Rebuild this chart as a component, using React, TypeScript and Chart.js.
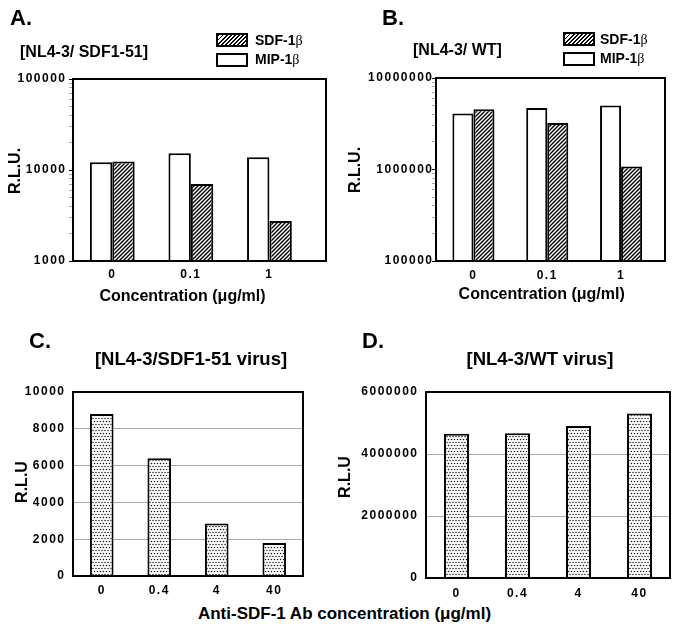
import React, { useEffect, useRef } from 'react';
import { Chart, registerables } from 'chart.js';
Chart.register(...registerables);

// ---------- data ----------
const abCategories = ['0', '0.1', '1'];
const sdfLabel = 'SDF-1β';
const mipLabel = 'MIP-1β';
const aMip = [12200, 15300, 13800];
const aSdf = [12400, 7000, 2750];
const bMip = [4080000, 4710000, 4990000];
const bSdf = [4550000, 3230000, 1080000];
const aDecades = [1000, 10000, 100000];
const bDecades = [100000, 1000000, 10000000];

const cdCategories = ['0', '0.4', '4', '40'];
const cValues = [8800, 6400, 2850, 1800];
const dValues = [4650000, 4670000, 4900000, 5310000];
const cTicks = [0, 2000, 4000, 6000, 8000, 10000];
const dTicks = [0, 2000000, 4000000, 6000000];

// ---------- styles ----------
const FONT = '"Liberation Sans", Arial, Helvetica, sans-serif';
const TICK_FONT = { family: '"Liberation Sans", Arial, sans-serif', size: 12, weight: 'bold' as const };

const framePlugin = {
  id: 'frame',
  beforeDraw(chart: any) {
    (chart.ctx as any).letterSpacing = '1.5px';
  },
  afterDatasetsDraw(chart: any) {
    const { ctx, chartArea: a } = chart;
    ctx.save();
    ctx.strokeStyle = '#000';
    ctx.lineWidth = 2;
    ctx.strokeRect(a.left, a.top, a.right - a.left, a.bottom - a.top);
    ctx.restore();
  },
  afterDraw(chart: any) {
    (chart.ctx as any).letterSpacing = '0px';
  },
};

function makeHatch(ctx: CanvasRenderingContext2D) {
  const c = document.createElement('canvas');
  c.width = 4;
  c.height = 4;
  const g = c.getContext('2d')!;
  g.fillStyle = '#fff';
  g.fillRect(0, 0, 4, 4);
  g.strokeStyle = '#000';
  g.lineWidth = 1.4;
  g.beginPath();
  g.moveTo(-1, 5); g.lineTo(5, -1);
  g.moveTo(-1, 1); g.lineTo(1, -1);
  g.moveTo(3, 5); g.lineTo(5, 3);
  g.stroke();
  return ctx.createPattern(c, 'repeat');
}

function makeDots(ctx: CanvasRenderingContext2D) {
  const c = document.createElement('canvas');
  c.width = 6;
  c.height = 6;
  const g = c.getContext('2d')!;
  g.fillStyle = '#fff';
  g.fillRect(0, 0, 6, 6);
  g.fillStyle = '#111';
  const pts = [[1.5, 1.5], [4.5, 1.5], [0, 4.5], [3, 4.5], [6, 4.5]];
  for (const [x, y] of pts) {
    g.beginPath();
    g.arc(x, y, 0.75, 0, Math.PI * 2);
    g.fill();
  }
  return ctx.createPattern(c, 'repeat');
}

type Area = { left: number; right: number; top: number; bottom: number };

function isMinorOk(v: number) {
  const e = Math.floor(Math.log10(v) + 1e-9);
  const m = v / Math.pow(10, e);
  return Math.abs(m - Math.round(m)) < 1e-6;
}
function isDecade(v: number) {
  const l = Math.log10(v);
  return Math.abs(l - Math.round(l)) < 1e-9;
}

function logConfig(ctx: CanvasRenderingContext2D, o: {
  mip: number[]; sdf: number[]; decades: number[]; area: Area; w: number; h: number;
  xMin: number; xMax: number; tickPad: number; xPad: number;
}) {
  const hatch = makeHatch(ctx);
  return {
    type: 'bar',
    data: {
      datasets: [
        {
          label: mipLabel,
          data: abCategories.map((_, i) => ({ x: i, y: o.mip[i] })),
          backgroundColor: '#fff', borderColor: '#000', borderWidth: 2,
          categoryPercentage: 0.57, barPercentage: 1,
        },
        {
          label: sdfLabel,
          data: abCategories.map((_, i) => ({ x: i, y: o.sdf[i] })),
          backgroundColor: hatch, borderColor: '#000', borderWidth: 2,
          categoryPercentage: 0.57, barPercentage: 1,
        },
      ],
    },
    options: {
      responsive: false,
      animation: false,
      devicePixelRatio: 1,
      layout: { padding: { left: 0, top: o.area.top, right: o.w - o.area.right, bottom: 0 } },
      plugins: { legend: { display: false }, tooltip: { enabled: false } },
      scales: {
        x: {
          type: 'linear', min: o.xMin, max: o.xMax, offset: false,
          afterBuildTicks: (s: any) => { s.ticks = abCategories.map((_, i) => ({ value: i })); },
          ticks: {
            callback: (v: number) => abCategories[Math.round(v)],
            font: TICK_FONT, color: '#000', padding: o.xPad,
            autoSkip: false, maxRotation: 0,
          },
          grid: { display: false, drawTicks: false, offset: false },
          border: { display: false },
          afterFit: (s: any) => { s.height = o.h - o.area.bottom; },
        },
        y: {
          type: 'logarithmic', min: o.decades[0], max: o.decades[o.decades.length - 1],
          afterBuildTicks: (s: any) => { s.ticks = s.ticks.filter((t: any) => isMinorOk(t.value)); },
          ticks: {
            autoSkip: false,
            callback: (v: number) => (isDecade(v) ? String(Math.round(v)) : ''),
            font: TICK_FONT, color: '#000', padding: o.tickPad,
          },
          grid: {
            drawOnChartArea: false, drawTicks: true, tickLength: 4, lineWidth: 1,
            color: (c: any) => (c.tick && isDecade(c.tick.value) ? '#000' : '#aaa'),
          },
          border: { display: false },
          afterFit: (s: any) => { s.width = o.area.left; },
        },
      },
    },
    plugins: [framePlugin],
  };
}

function linConfig(ctx: CanvasRenderingContext2D, o: {
  values: number[]; ticks: number[]; area: Area; w: number; h: number; xPad: number;
}) {
  const dots = makeDots(ctx);
  const max = o.ticks[o.ticks.length - 1];
  return {
    type: 'bar',
    data: {
      labels: cdCategories,
      datasets: [
        {
          label: 'R.L.U',
          data: o.values,
          backgroundColor: dots, borderColor: '#000', borderWidth: 2,
          categoryPercentage: 0.41, barPercentage: 1,
        },
      ],
    },
    options: {
      responsive: false,
      animation: false,
      devicePixelRatio: 1,
      layout: { padding: { left: 0, top: o.area.top, right: o.w - o.area.right, bottom: 0 } },
      plugins: { legend: { display: false }, tooltip: { enabled: false } },
      scales: {
        x: {
          ticks: { font: TICK_FONT, color: '#000', padding: o.xPad, maxRotation: 0 },
          grid: { display: false, drawTicks: false },
          border: { display: false },
          afterFit: (s: any) => { s.height = o.h - o.area.bottom; },
        },
        y: {
          min: 0, max,
          afterBuildTicks: (s: any) => { s.ticks = o.ticks.map((v) => ({ value: v })); },
          ticks: {
            autoSkip: false,
            callback: (v: number) => String(v),
            font: TICK_FONT, color: '#000', padding: 7.5,
          },
          grid: {
            drawTicks: false, lineWidth: 1,
            color: (c: any) => (c.tick && (c.tick.value === 0 || c.tick.value === max) ? 'rgba(0,0,0,0)' : '#a8a8a8'),
          },
          border: { display: false },
          afterFit: (s: any) => { s.width = o.area.left; },
        },
      },
    },
    plugins: [framePlugin],
  };
}

function ChartBox({ left, top, width, height, build }: {
  left: number; top: number; width: number; height: number; build: (ctx: CanvasRenderingContext2D) => any;
}) {
  const ref = useRef<HTMLCanvasElement>(null);
  useEffect(() => {
    const canvas = ref.current!;
    const ctx = canvas.getContext('2d')!;
    const chart = new Chart(canvas, build(ctx));
    return () => chart.destroy();
  }, []);
  return (
    <canvas ref={ref} width={width} height={height}
      style={{ position: 'absolute', left, top, width, height }} />
  );
}

function Txt({ x, capTop, size, center, children }: {
  x: number; capTop: number; size: number; center?: boolean; children: React.ReactNode;
}) {
  return (
    <div style={{
      position: 'absolute', left: x, top: capTop - 0.13 * size,
      fontFamily: FONT, fontWeight: 700, fontSize: size, lineHeight: 1,
      whiteSpace: 'nowrap', color: '#000',
      transform: center ? 'translateX(-50%)' : undefined,
    }}>{children}</div>
  );
}

function VTxt({ cx, cy, size, children }: { cx: number; cy: number; size: number; children: React.ReactNode }) {
  return (
    <div style={{
      position: 'absolute', left: cx, top: cy,
      fontFamily: FONT, fontWeight: 700, fontSize: size, lineHeight: 1,
      whiteSpace: 'nowrap', color: '#000',
      transform: 'translate(-50%, -50%) rotate(-90deg)',
    }}>{children}</div>
  );
}

function Beta({ label }: { label: string }) {
  const base = label.slice(0, -1);
  const last = label.slice(-1);
  return <>{base}<span style={{ fontWeight: 400, fontFamily: '"Liberation Serif", serif' }}>{last}</span></>;
}

function LegendBox({ x, y, hatched }: { x: number; y: number; hatched: boolean }) {
  return (
    <div style={{
      position: 'absolute', left: x, top: y, width: 32, height: 14, boxSizing: 'border-box',
      border: '2px solid #000',
      background: hatched ? 'repeating-linear-gradient(135deg, #000 0 1.3px, #fff 1.3px 2.9px)' : '#fff',
    }} />
  );
}

export default function App() {
  return (
    <div style={{ position: 'relative', width: 679, height: 634, background: '#fff', overflow: 'hidden' }}>
      <style>{'body{margin:0}'}</style>

      <ChartBox left={0} top={0} width={340} height={300} build={(ctx) => logConfig(ctx, {
        mip: aMip, sdf: aSdf, decades: aDecades, area: { left: 73, right: 326, top: 79, bottom: 261 },
        w: 340, h: 300, xMin: -0.5, xMax: 2.72, tickPad: 2.5, xPad: 6.5,
      })} />
      <ChartBox left={340} top={0} width={339} height={300} build={(ctx) => logConfig(ctx, {
        mip: bMip, sdf: bSdf, decades: bDecades, area: { left: 96, right: 325, top: 78, bottom: 261 },
        w: 339, h: 300, xMin: -0.507, xMax: 2.595, tickPad: -1.5, xPad: 7.5,
      })} />
      <ChartBox left={0} top={300} width={330} height={300} build={(ctx) => linConfig(ctx, {
        values: cValues, ticks: cTicks, area: { left: 73, right: 303, top: 92, bottom: 276 },
        w: 330, h: 300, xPad: 7.5,
      })} />
      <ChartBox left={330} top={300} width={349} height={300} build={(ctx) => linConfig(ctx, {
        values: dValues, ticks: dTicks, area: { left: 96, right: 340, top: 92, bottom: 278 },
        w: 349, h: 300, xPad: 8.5,
      })} />

      <Txt x={10} capTop={10} size={22}>A.</Txt>
      <Txt x={382} capTop={10} size={22}>B.</Txt>
      <Txt x={29} capTop={333} size={22}>C.</Txt>
      <Txt x={362} capTop={333} size={22}>D.</Txt>

      <Txt x={20} capTop={46} size={16}>[NL4-3/ SDF1-51]</Txt>
      <Txt x={413} capTop={44} size={16}>[NL4-3/ WT]</Txt>
      <Txt x={191} capTop={352} size={18.5} center>[NL4-3/SDF1-51 virus]</Txt>
      <Txt x={540} capTop={352} size={18.5} center>[NL4-3/WT virus]</Txt>

      <VTxt cx={15} cy={170.5} size={16}>R.L.U.</VTxt>
      <VTxt cx={355} cy={170} size={16}>R.L.U.</VTxt>
      <VTxt cx={22} cy={482} size={16}>R.L.U</VTxt>
      <VTxt cx={345} cy={477} size={16}>R.L.U</VTxt>

      <Txt x={182.5} capTop={290} size={16} center>Concentration (μg/ml)</Txt>
      <Txt x={541.7} capTop={288} size={16} center>Concentration (μg/ml)</Txt>
      <Txt x={344.5} capTop={607} size={17} center>Anti-SDF-1 Ab concentration (μg/ml)</Txt>

      <LegendBox x={216} y={33} hatched />
      <Txt x={255} capTop={35} size={14}><Beta label={sdfLabel} /></Txt>
      <LegendBox x={216} y={53} hatched={false} />
      <Txt x={255} capTop={54} size={14}><Beta label={mipLabel} /></Txt>

      <LegendBox x={563} y={32} hatched />
      <Txt x={600} capTop={34} size={14}><Beta label={sdfLabel} /></Txt>
      <LegendBox x={563} y={52} hatched={false} />
      <Txt x={600} capTop={53} size={14}><Beta label={mipLabel} /></Txt>
    </div>
  );
}
